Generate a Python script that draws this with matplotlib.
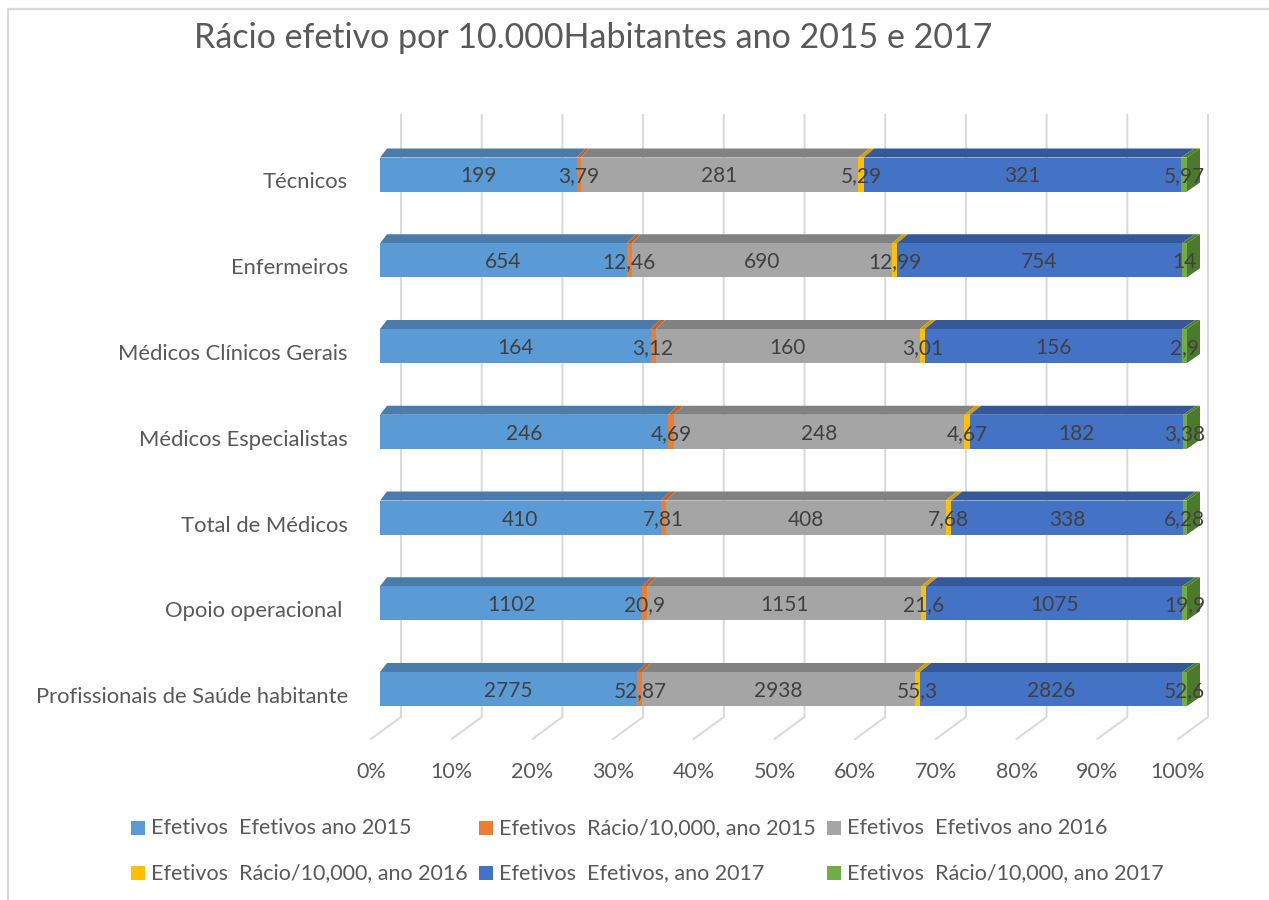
import matplotlib
matplotlib.use('Agg')
import matplotlib.pyplot as plt
from matplotlib.patches import Polygon
from matplotlib.lines import Line2D
import numpy as np

plt.rcParams['font.family'] = ['Lato', 'DejaVu Sans']

title = "Rácio efetivo por 10.000Habitantes ano 2015 e 2017"
categories = ["Profissionais de Saúde habitante", "Opoio operacional ", "Total de Médicos",
              "Médicos Especialistas", "Médicos Clínicos Gerais", "Enfermeiros", "Técnicos"]
series_names = ["Efetivos  Efetivos ano 2015", "Efetivos  Rácio/10,000, ano 2015",
                "Efetivos  Efetivos ano 2016", "Efetivos  Rácio/10,000, ano 2016",
                "Efetivos  Efetivos, ano 2017", "Efetivos  Rácio/10,000, ano 2017"]
efetivos_2015 = [2775, 1102, 410, 246, 164, 654, 199]
racio_2015 = [52.87, 20.9, 7.81, 4.69, 3.12, 12.46, 3.79]
efetivos_2016 = [2938, 1151, 408, 248, 160, 690, 281]
racio_2016 = [55.3, 21.6, 7.68, 4.67, 3.01, 12.99, 5.29]
efetivos_2017 = [2826, 1075, 338, 182, 156, 754, 321]
racio_2017 = [52.6, 19.9, 6.28, 3.38, 2.9, 14, 5.97]
tick_values = [0, 0.1, 0.2, 0.3, 0.4, 0.5, 0.6, 0.7, 0.8, 0.9, 1.0]
tick_labels = ["0%", "10%", "20%", "30%", "40%", "50%", "60%", "70%", "80%", "90%", "100%"]

front_colors = ["#5B9BD5", "#ED7D31", "#A5A5A5", "#FFC000", "#4472C4", "#70AD47"]
top_colors = ["#4A7BAA", "#BF6326", "#828282", "#D4A000", "#34589A", "#507E32"]
end_color = "#4B7A2C"

series = [efetivos_2015, racio_2015, efetivos_2016, racio_2016, efetivos_2017, racio_2017]
data = np.array(series, dtype=float)  # (6, ncat)
totals = data.sum(axis=0)
frac = data / totals

W, H = 1269, 900
fig = plt.figure(figsize=(W / 100, H / 100), dpi=100)
ax = fig.add_axes([0, 0, 1, 1])
# pixel geometry mapping
PX0, PXW = 380.0, 807.0
PY0, PYS = 689.0, 85.75
ax.set_xlim((0 - PX0) / PXW, (W - PX0) / PXW)
ax.set_ylim((PY0 - H) / PYS, (PY0 - 0) / PYS)
ax.axis('off')

def xpx(p):
    return p / PXW

def ypx(p):
    return p / PYS

# chart border
fig.add_artist(Line2D([8 / W, 8 / W, 1.0], [0.0, 1 - 9 / H, 1 - 9 / H], color="#D9D9D9", lw=1.6,
                      transform=fig.transFigure))

# gridlines (back wall + floor)
y_top = (PY0 - 115) / PYS
y_back = (PY0 - 717) / PYS
y_front = (PY0 - 739) / PYS
for t in tick_values:
    xb = t + xpx(21)
    xf = t - xpx(9)
    ax.plot([xb, xb, xf], [y_top, y_back, y_front], color="#D9D9D9", lw=1.4, zorder=1,
            solid_joinstyle='miter')

for t, lab in zip(tick_values, tick_labels):
    ax.text(t - xpx(9), (PY0 - 772) / PYS, lab, ha='center', va='center', fontsize=15.5,
            color="#595959")

ypos = np.arange(len(categories))
bar_h = 34 / PYS
dy = ypx(9)

def dx(f):
    return xpx(7 + 6 * f)

lefts = np.zeros(len(categories))
for s in range(len(series)):
    w = frac[s]
    ax.barh(ypos, w, left=lefts, height=bar_h, color=front_colors[s], zorder=3, linewidth=0)
    for i in range(len(categories)):
        x0, x1 = lefts[i], lefts[i] + w[i]
        yt = ypos[i] + bar_h / 2
        ax.add_patch(Polygon([(x0, yt), (x1, yt), (x1 + dx(x1), yt + dy), (x0 + dx(x0), yt + dy)],
                             closed=True, facecolor=top_colors[s], edgecolor='none', zorder=2.9))
        if s == len(series) - 1:
            yb = ypos[i] - bar_h / 2
            ax.add_patch(Polygon([(x1, yb), (x1, yt), (x1 + dx(x1), yt + dy), (x1 + dx(x1), yb + dy)],
                                 closed=True, facecolor=end_color, edgecolor='none', zorder=2.9))
        lab = f"{series[s][i]:g}".replace('.', ',')
        ax.text(x0 + w[i] / 2, ypos[i] - ypx(2), lab, ha='center', va='center', fontsize=15,
                color="#404040", zorder=6)
    lefts = lefts + w

for i, c in enumerate(categories):
    ax.text(xpx(348 - PX0), ypos[i] - ypx(8), c, ha='right', va='center', fontsize=15.8,
            color="#595959")

fig.text(593 / W, 1 - 38 / H, title, ha='center', va='center', fontsize=24.5, color="#595959")

# legend
leg_x = [131, 479, 827]
leg_y = [828, 873]
for k, name in enumerate(series_names):
    r, cidx = divmod(k, 3)
    x = leg_x[cidx]
    y = leg_y[r]
    fig.patches.append(matplotlib.patches.Rectangle((x / W, 1 - (y + 7) / H), 14 / W, 14 / H,
                                                    transform=fig.transFigure,
                                                    facecolor=front_colors[k], edgecolor='none'))
    fig.text((x + 20) / W, 1 - y / H, name, ha='left', va='center', fontsize=15.5, color="#595959")

fig.savefig("out.png", dpi=100)
